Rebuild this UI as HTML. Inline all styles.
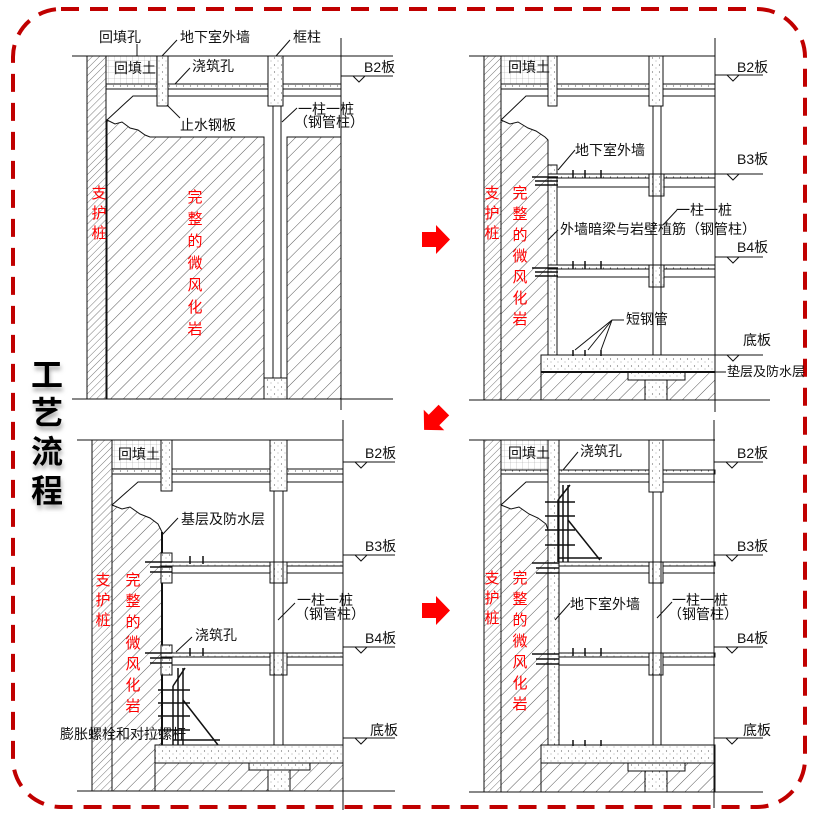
<!DOCTYPE html>
<html><head><meta charset="utf-8"><style>
html,body{margin:0;padding:0;background:#fff;}
svg{display:block;}
text{font-family:"Liberation Sans","Noto Sans CJK SC",sans-serif;}
</style></head><body>
<svg width="818" height="818" viewBox="0 0 818 818" xmlns="http://www.w3.org/2000/svg">
<defs>
<pattern id="h" patternUnits="userSpaceOnUse" width="9" height="9" patternTransform="rotate(45)"><rect width="9" height="9" fill="#fff"/><line x1="0" y1="0" x2="0" y2="9" stroke="#444" stroke-width="0.9"/></pattern>
<pattern id="hd" patternUnits="userSpaceOnUse" width="5" height="5" patternTransform="rotate(45)"><rect width="5" height="5" fill="#fff"/><line x1="0" y1="0" x2="0" y2="5" stroke="#555" stroke-width="0.8"/></pattern>
<pattern id="d" patternUnits="userSpaceOnUse" width="7" height="7"><rect width="7" height="7" fill="#fff"/><circle cx="1.5" cy="2" r="0.6" fill="#666"/><circle cx="5" cy="5" r="0.5" fill="#888"/></pattern>
<pattern id="g" patternUnits="userSpaceOnUse" width="6" height="6"><rect width="6" height="6" fill="#fff"/><path d="M0 0H6M0 0V6" stroke="#aaa" stroke-width="0.6"/></pattern>
<filter id="sh" x="-20%" y="-20%" width="140%" height="160%"><feDropShadow dx="1" dy="4" stdDeviation="2" flood-color="#888" flood-opacity="0.7"/></filter>
</defs>
<rect x="0" y="0" width="818" height="818" fill="#fff"/>
<rect x="13" y="9" width="792" height="798" rx="48" fill="none" stroke="#c00000" stroke-width="4" stroke-dasharray="18 11"/>

<g font-size="32" font-weight="bold" fill="#000" text-anchor="middle" filter="url(#sh)" style="font-family:'Noto Sans CJK SC',sans-serif">
<text x="47" y="386">工</text><text x="47" y="424">艺</text><text x="47" y="463">流</text><text x="47" y="502">程</text>
</g>

<!-- arrows -->
<g fill="#ff0000">
<polygon points="422,232 436,232 436,225 450,239.5 436,254 436,247 422,247"/>
<polygon points="422,232 436,232 436,225 450,239.5 436,254 436,247 422,247" transform="translate(0,371)"/>
<g transform="translate(434,420) rotate(135)"><polygon points="-14,-7.5 0,-7.5 0,-14.5 14,0 0,14.5 0,7.5 -14,7.5"/></g>
</g>

<g stroke="#111" stroke-width="1" fill="none">
<!-- ================= TL ================= -->
<rect x="87" y="56" width="19" height="343" fill="url(#hd)"/>
<polygon points="107,120 115,124 122,122 130,128 138,130 145,135 150,137 264,137 264,399 107,399" fill="url(#h)"/>
<rect x="287" y="137" width="54" height="262" fill="url(#h)"/>
<polyline points="107,120 133,96 157,96"/>
<rect x="106" y="56" width="51" height="28" fill="url(#g)"/>
<rect x="106" y="84" width="235" height="5" fill="url(#d)"/>
<rect x="157" y="56" width="11" height="50" fill="url(#d)"/>
<line x1="168" y1="96" x2="268" y2="96"/><line x1="283" y1="96" x2="341" y2="96"/>
<rect x="268" y="56" width="15" height="50" fill="url(#d)"/>
<line x1="273" y1="106" x2="273" y2="378"/><line x1="281" y1="106" x2="281" y2="378"/>
<rect x="264" y="378" width="23" height="21" fill="url(#d)"/>
<line x1="72" y1="56" x2="393" y2="56"/><line x1="72" y1="399" x2="393" y2="399"/>
<line x1="341" y1="38" x2="341" y2="410"/>
<line x1="341" y1="76" x2="393" y2="76"/><polyline points="353,76 359,82 365,76"/>
<line x1="137" y1="44" x2="137" y2="56"/><line x1="162" y1="56" x2="177" y2="40"/><line x1="276" y1="56" x2="290" y2="40"/>
<line x1="175" y1="84" x2="190" y2="68"/><line x1="167" y1="105" x2="180" y2="118"/><line x1="282" y1="122" x2="297" y2="108"/>

<!-- ================= TR ================= -->
<rect x="484" y="56" width="17" height="344" fill="url(#hd)"/>
<polygon points="501,120 510,124 518,122 528,128 536,131 545,137 548,140 548,355 541,355 541,400 501,400" fill="url(#h)"/>
<rect x="541" y="372" width="174" height="28" fill="url(#h)"/>
<polyline points="501,120 526,96 548,96"/>
<rect x="501" y="56" width="47" height="28" fill="url(#g)"/>
<rect x="501" y="84" width="214" height="5" fill="url(#d)"/>
<rect x="548" y="56" width="9" height="50" fill="url(#d)"/>
<line x1="557" y1="96" x2="649" y2="96"/><line x1="663" y1="96" x2="715" y2="96"/>
<rect x="649" y="56" width="14" height="50" fill="url(#d)"/>
<rect x="548" y="165" width="9" height="190" fill="url(#d)"/>
<rect x="548" y="174" width="167" height="4" fill="url(#d)"/>
<line x1="557" y1="187" x2="649" y2="187"/><line x1="664" y1="187" x2="715" y2="187"/>
<rect x="649" y="174" width="15" height="22" fill="url(#d)"/>
<rect x="548" y="265" width="167" height="4" fill="url(#d)"/>
<line x1="557" y1="277" x2="649" y2="277"/><line x1="664" y1="277" x2="715" y2="277"/>
<rect x="649" y="265" width="15" height="22" fill="url(#d)"/>
<line x1="653" y1="106" x2="653" y2="355"/><line x1="661" y1="106" x2="661" y2="355"/>
<rect x="541" y="355" width="174" height="17" fill="url(#d)"/>
<rect x="628" y="372" width="57" height="8" fill="url(#d)"/>
<rect x="645" y="380" width="22" height="20" fill="url(#d)"/>
<line x1="541" y1="372" x2="715" y2="372" stroke-width="2"/>
<g stroke-width="1.5"><line x1="532" y1="177" x2="558" y2="177"/><line x1="535" y1="181" x2="558" y2="181"/><line x1="535" y1="185" x2="558" y2="185"/>
<line x1="532" y1="268" x2="558" y2="268"/><line x1="535" y1="272" x2="558" y2="272"/><line x1="535" y1="276" x2="558" y2="276"/>
<line x1="573" y1="170" x2="573" y2="178"/><line x1="585" y1="170" x2="585" y2="178"/><line x1="601" y1="170" x2="601" y2="178"/>
<line x1="573" y1="261" x2="573" y2="269"/><line x1="585" y1="261" x2="585" y2="269"/><line x1="601" y1="261" x2="601" y2="269"/>
<line x1="573" y1="350" x2="573" y2="356"/><line x1="585" y1="350" x2="585" y2="356"/><line x1="601" y1="350" x2="601" y2="356"/></g>
<line x1="469" y1="56" x2="715" y2="56"/><line x1="469" y1="400" x2="770" y2="400"/>
<line x1="715" y1="38" x2="715" y2="412"/>
<line x1="715" y1="75" x2="763" y2="75"/><polyline points="727,75 733,81 739,75"/>
<line x1="715" y1="174" x2="763" y2="174"/><polyline points="727,174 733,180 739,174"/>
<line x1="715" y1="257" x2="763" y2="257"/><polyline points="727,257 733,263 739,257"/>
<line x1="715" y1="355" x2="763" y2="355"/><polyline points="727,355 733,361 739,355"/>
<line x1="558" y1="170" x2="575" y2="150"/><line x1="548" y1="240" x2="558" y2="230"/>
<line x1="575" y1="350" x2="612" y2="320"/><line x1="588" y1="350" x2="612" y2="320"/><line x1="601" y1="350" x2="612" y2="320"/><line x1="612" y1="320" x2="624" y2="320"/>
<line x1="663" y1="225" x2="677" y2="210"/><line x1="714" y1="372" x2="726" y2="372"/>

<!-- ================= BL ================= -->
<rect x="92" y="440" width="20" height="351" fill="url(#hd)"/>
<polygon points="112,505 122,509 130,507 140,514 150,518 158,524 162,532 162,745 155,745 155,791 112,791" fill="url(#h)"/>
<rect x="155" y="763" width="188" height="28" fill="url(#h)"/>
<polyline points="112,505 138,482 162,482"/>
<rect x="112" y="440" width="50" height="30" fill="url(#g)"/>
<rect x="112" y="469" width="231" height="5" fill="url(#d)"/>
<rect x="161" y="440" width="11" height="51" fill="url(#d)"/>
<line x1="172" y1="482" x2="270" y2="482"/><line x1="287" y1="482" x2="343" y2="482"/>
<rect x="270" y="440" width="17" height="51" fill="url(#d)"/>
<line x1="162" y1="532" x2="162" y2="745" stroke-width="2"/>
<rect x="161" y="553" width="11" height="30" fill="url(#d)"/>
<rect x="161" y="645" width="11" height="30" fill="url(#d)"/>
<rect x="161" y="562" width="182" height="4" fill="url(#d)"/>
<line x1="172" y1="573" x2="270" y2="573"/><line x1="287" y1="573" x2="343" y2="573"/>
<rect x="270" y="562" width="17" height="21" fill="url(#d)"/>
<rect x="161" y="653" width="182" height="4" fill="url(#d)"/>
<line x1="172" y1="665" x2="270" y2="665"/><line x1="287" y1="665" x2="343" y2="665"/>
<rect x="270" y="653" width="17" height="22" fill="url(#d)"/>
<line x1="274" y1="491" x2="274" y2="745"/><line x1="283" y1="491" x2="283" y2="745"/>
<rect x="155" y="745" width="188" height="18" fill="url(#d)"/>
<rect x="249" y="763" width="61" height="7" fill="url(#d)"/>
<rect x="268" y="770" width="22" height="21" fill="url(#d)"/>
<g stroke-width="1.5"><line x1="145" y1="562" x2="172" y2="562"/><line x1="150" y1="567" x2="172" y2="567"/><line x1="150" y1="572" x2="172" y2="572"/>
<line x1="145" y1="653" x2="172" y2="653"/><line x1="150" y1="658" x2="172" y2="658"/><line x1="150" y1="663" x2="172" y2="663"/>
<line x1="190" y1="556" x2="190" y2="564"/><line x1="203" y1="556" x2="203" y2="564"/>
<line x1="190" y1="648" x2="190" y2="656"/><line x1="203" y1="648" x2="203" y2="656"/>
<line x1="173" y1="686" x2="173" y2="745"/><line x1="178" y1="668" x2="178" y2="745"/><line x1="183" y1="668" x2="183" y2="745"/>
<line x1="185" y1="668" x2="173" y2="686"/><line x1="183" y1="700" x2="218" y2="745"/>
<line x1="158" y1="690" x2="190" y2="690"/><line x1="158" y1="703" x2="190" y2="703"/><line x1="158" y1="716" x2="190" y2="716"/><line x1="158" y1="730" x2="190" y2="730"/><line x1="173" y1="740" x2="220" y2="740"/></g>
<line x1="77" y1="440" x2="343" y2="440"/><line x1="77" y1="791" x2="395" y2="791"/>
<line x1="343" y1="420" x2="343" y2="810"/>
<line x1="343" y1="462" x2="395" y2="462"/><polyline points="355,462 361,468 367,462"/>
<line x1="343" y1="555" x2="395" y2="555"/><polyline points="355,555 361,561 367,555"/>
<line x1="343" y1="647" x2="395" y2="647"/><polyline points="355,647 361,653 367,647"/>
<line x1="343" y1="738" x2="395" y2="738"/><polyline points="355,738 361,744 367,738"/>
<line x1="162" y1="535" x2="178" y2="518"/><line x1="176" y1="652" x2="192" y2="637"/><line x1="278" y1="620" x2="295" y2="603"/>

<!-- ================= BR ================= -->
<rect x="484" y="440" width="17" height="352" fill="url(#hd)"/>
<polygon points="501,505 511,509 519,507 529,514 538,518 546,524 548,530 548,745 541,745 541,792 501,792" fill="url(#h)"/>
<rect x="541" y="763" width="174" height="29" fill="url(#h)"/>
<polyline points="501,505 526,482 548,482"/>
<rect x="501" y="440" width="47" height="30" fill="url(#g)"/>
<rect x="501" y="470" width="214" height="4" fill="url(#d)"/>
<rect x="548" y="440" width="11" height="305" fill="url(#d)"/>
<line x1="559" y1="482" x2="649" y2="482"/><line x1="663" y1="482" x2="715" y2="482"/>
<rect x="649" y="440" width="14" height="52" fill="url(#d)"/>
<rect x="559" y="562" width="156" height="4" fill="url(#d)"/>
<line x1="559" y1="573" x2="649" y2="573"/><line x1="663" y1="573" x2="715" y2="573"/>
<rect x="649" y="562" width="14" height="21" fill="url(#d)"/>
<rect x="559" y="653" width="156" height="4" fill="url(#d)"/>
<line x1="559" y1="665" x2="649" y2="665"/><line x1="663" y1="665" x2="715" y2="665"/>
<rect x="649" y="653" width="14" height="22" fill="url(#d)"/>
<line x1="653" y1="492" x2="653" y2="745"/><line x1="661" y1="492" x2="661" y2="745"/>
<rect x="541" y="745" width="174" height="18" fill="url(#d)"/>
<rect x="628" y="763" width="57" height="8" fill="url(#d)"/>
<rect x="645" y="771" width="22" height="21" fill="url(#d)"/>
<g stroke-width="1.5"><line x1="532" y1="563" x2="559" y2="563"/><line x1="536" y1="568" x2="559" y2="568"/><line x1="536" y1="573" x2="559" y2="573"/>
<line x1="532" y1="654" x2="559" y2="654"/><line x1="536" y1="659" x2="559" y2="659"/><line x1="536" y1="664" x2="559" y2="664"/>
<line x1="573" y1="648" x2="573" y2="656"/><line x1="585" y1="648" x2="585" y2="656"/><line x1="601" y1="648" x2="601" y2="656"/>
<line x1="573" y1="740" x2="573" y2="746"/><line x1="585" y1="740" x2="585" y2="746"/><line x1="601" y1="740" x2="601" y2="746"/>
<line x1="558" y1="500" x2="558" y2="562"/><line x1="563" y1="485" x2="563" y2="562"/><line x1="568" y1="485" x2="568" y2="562"/>
<line x1="570" y1="485" x2="558" y2="500"/><line x1="568" y1="520" x2="600" y2="560"/>
<line x1="545" y1="502" x2="575" y2="502"/><line x1="545" y1="516" x2="575" y2="516"/><line x1="545" y1="530" x2="575" y2="530"/><line x1="545" y1="545" x2="575" y2="545"/><line x1="558" y1="558" x2="602" y2="558"/></g>
<line x1="469" y1="440" x2="715" y2="440"/><line x1="469" y1="792" x2="763" y2="792"/>
<line x1="714" y1="420" x2="714" y2="808"/>
<line x1="714" y1="462" x2="763" y2="462"/><polyline points="726,462 732,468 738,462"/>
<line x1="714" y1="555" x2="763" y2="555"/><polyline points="726,555 732,561 738,555"/>
<line x1="714" y1="647" x2="763" y2="647"/><polyline points="726,647 732,653 738,647"/>
<line x1="714" y1="738" x2="763" y2="738"/><polyline points="726,738 732,744 738,738"/>
<line x1="563" y1="470" x2="578" y2="452"/><line x1="555" y1="620" x2="570" y2="603"/><line x1="657" y1="618" x2="672" y2="602"/>
</g>

<!-- labels -->
<g font-size="14" fill="#111">
<text x="99" y="42">回填孔</text><text x="180" y="42">地下室外墙</text><text x="293" y="42">框柱</text>
<text x="114" y="73">回填土</text><text x="192" y="71">浇筑孔</text><text x="180" y="130">止水钢板</text>
<text x="298" y="114">一柱一桩</text><text x="294" y="127">（钢管柱）</text><text x="364" y="72">B2板</text>

<text x="508" y="72">回填土</text><text x="737" y="72">B2板</text><text x="737" y="164">B3板</text><text x="737" y="252">B4板</text><text x="743" y="345">底板</text>
<text x="575" y="155">地下室外墙</text><text x="560" y="234">外墙暗梁与岩壁植筋（钢管柱）</text>
<text x="676" y="215">一柱一桩</text><text x="626" y="324">短钢管</text><text x="727" y="376" font-size="13">垫层及防水层</text>

<text x="118" y="459">回填土</text><text x="365" y="458">B2板</text><text x="365" y="551">B3板</text><text x="365" y="643">B4板</text><text x="370" y="735">底板</text>
<text x="181" y="524">基层及防水层</text><text x="297" y="605">一柱一桩</text><text x="295" y="619">（钢管柱）</text>
<text x="195" y="640">浇筑孔</text><text x="60" y="739">膨胀螺栓和对拉螺杆</text>

<text x="508" y="458">回填土</text><text x="580" y="456">浇筑孔</text><text x="737" y="458">B2板</text><text x="737" y="551">B3板</text><text x="737" y="643">B4板</text><text x="743" y="735">底板</text>
<text x="570" y="609">地下室外墙</text><text x="672" y="605">一柱一桩</text><text x="668" y="619">（钢管柱）</text>
</g>
<g font-size="15" fill="#ff0000" text-anchor="middle">
<text x="99" y="198">支</text><text x="99" y="218">护</text><text x="99" y="238">桩</text>
<text x="195" y="202">完</text><text x="195" y="224">整</text><text x="195" y="246">的</text><text x="195" y="268">微</text><text x="195" y="290">风</text><text x="195" y="312">化</text><text x="195" y="334">岩</text>
<text x="492" y="198">支</text><text x="492" y="218">护</text><text x="492" y="238">桩</text>
<text x="520" y="198">完</text><text x="520" y="219">整</text><text x="520" y="240">的</text><text x="520" y="261">微</text><text x="520" y="282">风</text><text x="520" y="303">化</text><text x="520" y="324">岩</text>
<text x="103" y="585">支</text><text x="103" y="605">护</text><text x="103" y="625">桩</text>
<text x="133" y="585">完</text><text x="133" y="606">整</text><text x="133" y="627">的</text><text x="133" y="648">微</text><text x="133" y="669">风</text><text x="133" y="690">化</text><text x="133" y="711">岩</text>
<text x="492" y="583">支</text><text x="492" y="603">护</text><text x="492" y="623">桩</text>
<text x="520" y="583">完</text><text x="520" y="604">整</text><text x="520" y="625">的</text><text x="520" y="646">微</text><text x="520" y="667">风</text><text x="520" y="688">化</text><text x="520" y="709">岩</text>
</g>
</svg>
</body></html>
